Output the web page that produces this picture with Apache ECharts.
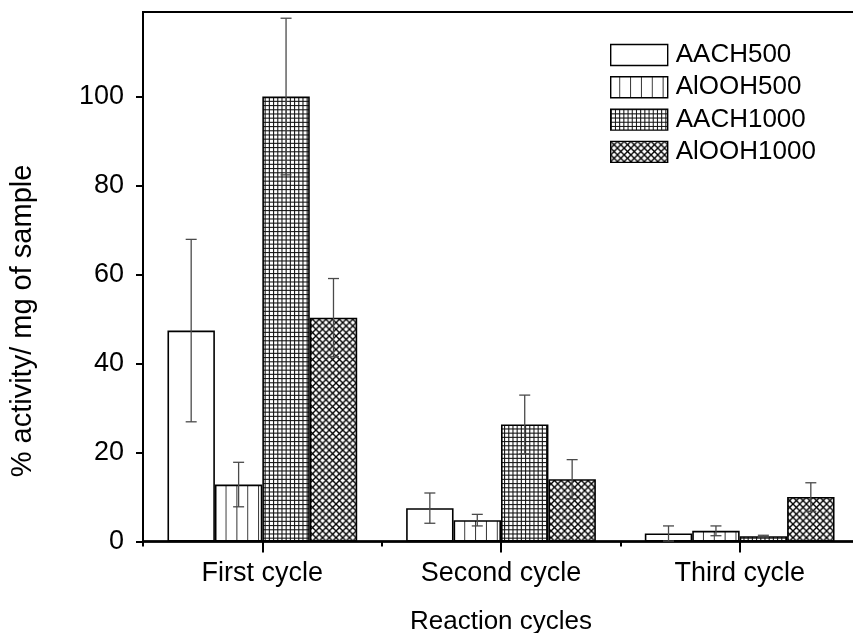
<!DOCTYPE html>
<html>
<head>
<meta charset="utf-8">
<title>Activity per reaction cycle</title>
<script src="https://cdn.jsdelivr.net/npm/echarts@6/dist/echarts.min.js"></script>
<style>
  html, body { margin: 0; padding: 0; background: #fff; }
  #chart { width: 853px; height: 633px; }
</style>
</head>
<body>
<div id="chart"></div>
<script>
// Categories, samples and measured values
const cycles = ['First cycle', 'Second cycle', 'Third cycle'];
const samples = ['AACH500', 'AlOOH500', 'AACH1000', 'AlOOH1000'];
const aach500 = [47.4, 7.5, 1.8];
const alooh500 = [12.8, 4.8, 2.4];
const aach1000 = [100, 26.3, 1.2];
const alooh1000 = [50.3, 14.0, 10.0];
// Symmetric error (±) for each bar
const aach500Err = [20.5, 3.4, 1.7];
const alooh500Err = [5.0, 1.3, 1.1];
const aach1000Err = [17.6, 6.6, 0.2];
const alooh1000Err = [8.8, 4.4, 3.2];
const yTicks = [0, 20, 40, 60, 80, 100];

const values = [aach500, alooh500, aach1000, alooh1000];
const errors = [aach500Err, alooh500Err, aach1000Err, alooh1000Err];

const FONT = '"Liberation Sans", Arial, sans-serif';
const CAT_GAP = 0.205;

// Hatch fills drawn on small tiles and repeated
function tile(w, h, draw) {
  const c = document.createElement('canvas');
  c.width = w; c.height = h;
  const ctx = c.getContext('2d');
  ctx.fillStyle = '#fff';
  ctx.fillRect(0, 0, w, h);
  draw(ctx, w, h);
  return c;
}
const plainFill = '#ffffff';
const verticalFill = {
  image: tile(11, 4, (ctx, w, h) => {
    ctx.fillStyle = '#333';
    ctx.fillRect(0, 0, 1, h);
  }),
  repeat: 'repeat', x: 8.5, scaleX: 238.7 / 22 / 11
};
const gridFill = {
  image: tile(4, 4, (ctx, w, h) => {
    ctx.fillStyle = '#111';
    ctx.fillRect(0, 0, w, 1);
    ctx.fillRect(0, 0, 1, h);
  }),
  repeat: 'repeat', scaleX: 1.05, scaleY: 1.05
};
const crossFill = {
  image: tile(14, 14, (ctx, w, h) => {
    ctx.strokeStyle = '#000';
    ctx.lineWidth = 1.4;
    for (let k = -1; k <= 1; k++) {
      ctx.beginPath();
      ctx.moveTo(k * 7 - 1, -1); ctx.lineTo(k * 7 + 15, 15); ctx.stroke();
      ctx.beginPath();
      ctx.moveTo(k * 7 + 15, -1); ctx.lineTo(k * 7 - 1, 15); ctx.stroke();
    }
  }),
  repeat: 'repeat', scaleX: 0.96, scaleY: 0.96
};
const fills = [plainFill, verticalFill, gridFill, crossFill];

const barSeries = samples.map((name, i) => ({
  name: name,
  type: 'bar',
  xAxisIndex: 0,
  data: values[i],
  barGap: '0%',
  barCategoryGap: (CAT_GAP * 100) + '%',
  itemStyle: { color: fills[i], borderColor: '#000', borderWidth: 1.6 },
  emphasis: { disabled: true }
}));

// Error bars placed over the matching bar of the group
const errSeries = samples.map((name, i) => ({
  type: 'custom',
  xAxisIndex: 0,
  z: 5,
  silent: true,
  data: values[i].map((v, c) => [c, v - errors[i][c], v + errors[i][c]]),
  renderItem: function (params, api) {
    const c = api.value(0);
    const band = api.size([1, 0])[0];
    const bw = band * (1 - CAT_GAP) / 4;
    const x = api.coord([c, 0])[0] + (i - 1.5) * bw;
    const yLo = api.coord([c, api.value(1)])[1];
    const yHi = api.coord([c, api.value(2)])[1];
    const cap = 5.5;
    const st = { stroke: '#4a4a4a', lineWidth: 1.3 };
    return {
      type: 'group',
      children: [
        { type: 'line', shape: { x1: x, y1: yLo, x2: x, y2: yHi }, style: st },
        { type: 'line', shape: { x1: x - cap, y1: yHi, x2: x + cap, y2: yHi }, style: st },
        { type: 'line', shape: { x1: x - cap, y1: yLo, x2: x + cap, y2: yLo }, style: st }
      ]
    };
  }
}));

const chart = echarts.init(document.getElementById('chart'), null, { renderer: 'canvas' });
chart.setOption({
  animation: false,
  backgroundColor: '#fff',
  textStyle: { fontFamily: FONT, color: '#000' },
  grid: {
    left: 143, top: 12, right: -6, bottom: 91.5,
    outerBoundsMode: 'none',
    containLabel: false,
    show: true, borderColor: '#000', borderWidth: 2, backgroundColor: 'transparent'
  },
  legend: {
    data: samples,
    orient: 'vertical',
    left: 610, top: 42,
    padding: 0,
    icon: 'rect',
    itemWidth: 57, itemHeight: 21, itemGap: 6.3,
    itemStyle: { borderColor: '#000', borderWidth: 1.4 },
    textStyle: { fontFamily: FONT, fontSize: 26, color: '#000', lineHeight: 24, padding: [0, 0, 0, 3] },
    selectedMode: false
  },
  xAxis: [
    {
      type: 'category',
      data: cycles,
      position: 'bottom',
      axisLine: { lineStyle: { color: '#000', width: 2.5 } },
      axisTick: { show: true, alignWithLabel: false, length: 5, lineStyle: { color: '#000', width: 2 } },
      axisLabel: { fontFamily: FONT, fontSize: 27, color: '#000', margin: 19 },
      name: 'Reaction cycles',
      nameLocation: 'middle',
      nameGap: 67,
      nameTextStyle: { fontFamily: FONT, fontSize: 26, color: '#000', verticalAlign: 'top' }
    },
    {
      type: 'category',
      data: cycles,
      position: 'bottom',
      axisLine: { show: false },
      axisTick: { show: true, alignWithLabel: true, length: 11, lineStyle: { color: '#000', width: 2 } },
      axisLabel: { show: false }
    }
  ],
  yAxis: {
    type: 'value',
    min: 0, max: 119, interval: 20,
    splitLine: { show: false },
    axisLine: { show: true, lineStyle: { color: '#000', width: 2 } },
    axisTick: { show: true, length: 7, customValues: yTicks, lineStyle: { color: '#000', width: 2 } },
    axisLabel: { fontFamily: FONT, fontSize: 27, color: '#000', margin: 19, customValues: yTicks }
  },
  graphic: [{
    type: 'text',
    x: 23, y: 321,
    rotation: Math.PI / 2,
    style: {
      text: '% activity/ mg of sample',
      font: '29px ' + FONT,
      fill: '#000',
      align: 'center',
      verticalAlign: 'middle'
    }
  }],
  series: barSeries.concat(errSeries)
});
</script>
</body>
</html>
